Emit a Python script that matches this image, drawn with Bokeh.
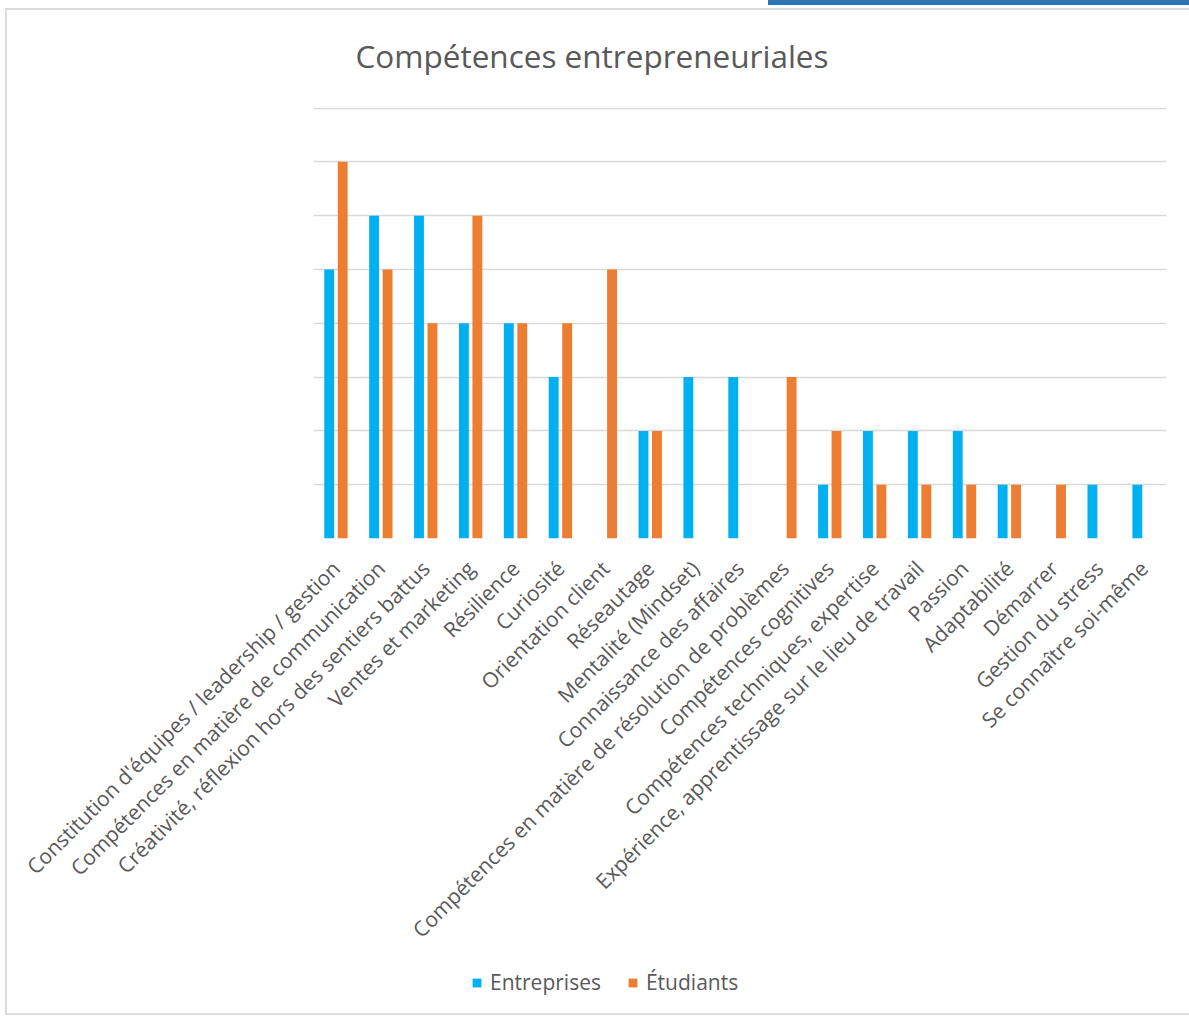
import math
from bokeh.plotting import figure
from bokeh.layouts import column
from bokeh.models import (FactorRange, Range1d, FixedTicker, Legend, LegendItem,
                          ColumnDataSource)
from bokeh.transform import dodge
from bokeh.embed import file_html
from bokeh.resources import INLINE

categories = [
    "Constitution d'équipes / leadership / gestion",
    "Compétences en matière de communication",
    "Créativité, réflexion hors des sentiers battus",
    "Ventes et marketing",
    "Résilience",
    "Curiosité",
    "Orientation client",
    "Réseautage",
    "Mentalité (Mindset)",
    "Connaissance des affaires",
    "Compétences en matière de résolution de problèmes",
    "Compétences cognitives",
    "Compétences techniques, expertise",
    "Expérience, apprentissage sur le lieu de travail",
    "Passion",
    "Adaptabilité",
    "Démarrer",
    "Gestion du stress",
    "Se connaître soi-même",
]
entreprises = [5, 6, 6, 4, 4, 3, 0, 2, 3, 3, 0, 1, 2, 2, 2, 1, 0, 1, 1]
etudiants = [7, 5, 4, 6, 4, 4, 5, 2, 0, 0, 3, 2, 1, 1, 1, 1, 1, 0, 0]
series_names = ["Entreprises", "Étudiants"]
grid_ticks = [0, 1, 2, 3, 4, 5, 6, 7, 8]

BLUE = "#00b0f0"
ORANGE = "#ed7d31"
TEXT = "#595959"
FONT = "Open Sans"

source = ColumnDataSource(dict(cat=categories, ent=entreprises, etu=etudiants))

# ---- main chart ----
p = figure(
    width=1189, height=960,
    x_range=FactorRange(*categories, range_padding=0),
    y_range=Range1d(0, 8.01),
    output_backend="svg", toolbar_location=None,
    min_border_left=313, min_border_right=23,
    min_border_top=107, min_border_bottom=422,
)
p.background_fill_color = "white"
p.border_fill_alpha = 0
p.outline_line_color = None

p.vbar(x=dodge("cat", -0.15, range=p.x_range), top="ent", width=0.22,
       source=source, color=BLUE, line_color=None)
p.vbar(x=dodge("cat", 0.15, range=p.x_range), top="etu", width=0.22,
       source=source, color=ORANGE, line_color=None)

p.title.text = "Compétences entrepreneuriales"
p.title.text_font = FONT
p.title.text_font_size = "31.5px"
p.title.text_font_style = "normal"
p.title.text_color = TEXT
p.title.align = "left"
p.title.offset = 42
p.title.standoff = 61

p.yaxis.visible = False
p.xaxis.axis_line_color = None
p.xaxis.major_tick_line_color = None
p.xaxis.minor_tick_line_color = None
p.xaxis.major_label_orientation = math.pi / 4
p.xaxis.major_label_text_font = FONT
p.xaxis.major_label_text_font_size = "21px"
p.xaxis.major_label_text_color = TEXT
p.xaxis.major_label_standoff = 20

p.xgrid.visible = False
p.ygrid.ticker = FixedTicker(ticks=grid_ticks)
p.ygrid.grid_line_color = "#d9d9d9"
p.ygrid.grid_line_width = 1.5

# ---- legend strip (its frame is aligned with the chart frame by the column) ----
lg = figure(
    width=1189, height=57,
    x_range=Range1d(0, 1), y_range=Range1d(0, 1),
    output_backend="svg", toolbar_location=None,
    min_border=0,
)
lg.border_fill_alpha = 0
lg.background_fill_alpha = 0
lg.outline_line_color = None
lg.axis.visible = False
lg.grid.visible = False
# zero-height bars: they only supply the legend swatches
swatch = ColumnDataSource(dict(x=[0.5], top=[0.0]))
lr1 = lg.vbar(x="x", top="top", bottom=0, width=0.0, source=swatch,
              color=BLUE, line_color=None)
lr2 = lg.vbar(x="x", top="top", bottom=0, width=0.0, source=swatch,
              color=ORANGE, line_color=None)

legend = Legend(
    items=[LegendItem(label=series_names[0], renderers=[lr1]),
           LegendItem(label=series_names[1], renderers=[lr2])],
    orientation="horizontal",
    location=(158, 21),
    padding=6, margin=0,
    label_text_font=FONT,
    label_text_font_size="21px",
    label_text_color=TEXT,
    label_standoff=8,
    glyph_width=11, glyph_height=11,
    spacing=26,
    border_line_color=None,
    background_fill_alpha=0,
)
lg.add_layout(legend, "center")

layout = column(p, lg, spacing=0)
# page decoration: light frame around the chart and a blue strip at the top right
layout.styles = {
    "background-color": "white",
    "background-image": ("linear-gradient(#2e75b6,#2e75b6), linear-gradient(#dcdcdc,#dcdcdc), "
                         "linear-gradient(#dcdcdc,#dcdcdc), linear-gradient(#dcdcdc,#dcdcdc)"),
    "background-size": "421px 5px, 2px 1006px, 1184px 2px, 1184px 2px",
    "background-position": "768px 0px, 5px 8px, 5px 8px, 5px 1013px",
    "background-repeat": "no-repeat",
}

open("out.html", "w").write(file_html(layout, INLINE))
